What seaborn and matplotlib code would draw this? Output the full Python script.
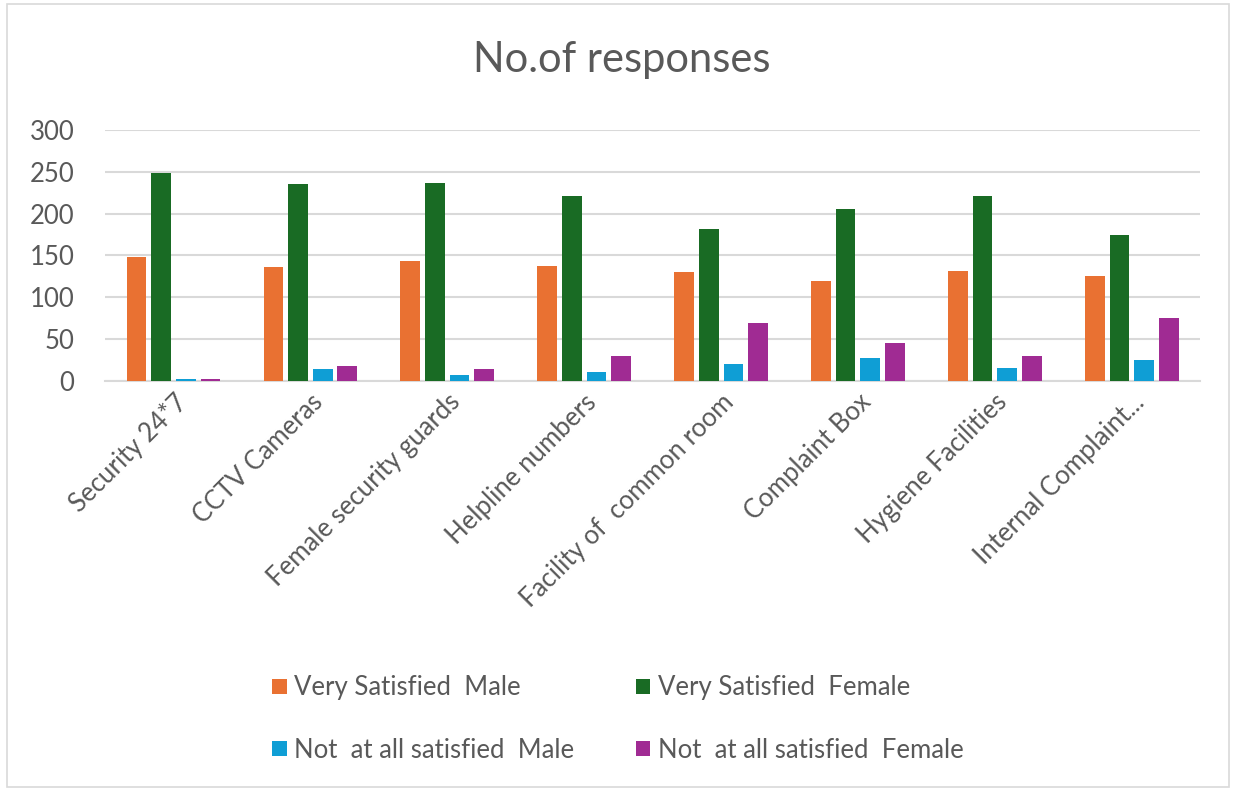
import pandas as pd
import matplotlib.pyplot as plt
import seaborn as sns
from matplotlib.patches import Rectangle

categories = ['Security 24*7', 'CCTV Cameras', 'Female security guards', 'Helpline numbers',
              'Facility of  common room', 'Complaint Box', 'Hygiene Facilities', 'Internal Complaint...']
very_male = [148, 136, 144, 138, 130, 120, 132, 126]
very_female = [248, 235, 236, 221, 182, 206, 221, 175]
notall_male = [3, 15, 7, 11, 20, 28, 16, 25]
notall_female = [3, 18, 15, 30, 69, 46, 30, 76]

series = ['Very Satisfied  Male', 'Very Satisfied  Female',
          'Not  at all satisfied  Male', 'Not  at all satisfied  Female']
colors = ['#E97132', '#196B24', '#0F9ED5', '#A02B93']

# long format for seaborn
rows = []
for name, vals in zip(series, [very_male, very_female, notall_male, notall_female]):
    for cat, v in zip(categories, vals):
        rows.append({'Category': cat, 'Series': name, 'Responses': v})
df = pd.DataFrame(rows)

sns.set_style('white')
plt.rcParams['font.family'] = ['Lato', 'DejaVu Sans']
text_grey = '#595959'

fig = plt.figure(figsize=(12.36, 7.91), dpi=100)
ax = fig.add_axes([0.085, 0.518, 0.886, 0.318])

sns.barplot(data=df, x='Category', y='Responses', hue='Series', palette=colors,
            width=0.72, gap=0.2, saturation=1, linewidth=0, ax=ax, legend=True)
for p in ax.patches:
    p.set_zorder(3)

ax.set_ylim(0, 300)
ax.set_xlim(-0.5, len(categories) - 0.5)
ax.set_yticks(range(0, 301, 50))
ax.yaxis.grid(True, color='#d9d9d9', linewidth=1.5, zorder=0)
ax.set_axisbelow(True)
for side in ['top', 'right', 'left']:
    ax.spines[side].set_visible(False)
ax.spines['bottom'].set_color('#d9d9d9')
ax.spines['bottom'].set_linewidth(1.5)
ax.spines['bottom'].set_zorder(1)
ax.tick_params(axis='both', length=0, colors=text_grey, labelsize=18.5)
ax.tick_params(axis='y', pad=22)
ax.tick_params(axis='x', pad=6)
ax.set_xticks(range(len(categories)))
ax.set_xticklabels(categories, rotation=45, ha='right', rotation_mode='anchor')
ax.set_xlabel('')
ax.set_ylabel('')

handles, labels = ax.get_legend_handles_labels()
ax.get_legend().remove()
order = [0, 2, 1, 3]  # row-wise like the original
fig.legend([handles[i] for i in order], [labels[i] for i in order], ncol=2, loc='center',
           bbox_to_anchor=(0.500, 0.091), frameon=False, fontsize=18.5, labelcolor=text_grey,
           handlelength=0.55, handleheight=0.55, handletextpad=0.3,
           columnspacing=2.4, labelspacing=1.45)

fig.text(0.503, 0.924, 'No.of responses', ha='center', va='center', fontsize=30, color=text_grey)

fig.patches.append(Rectangle((0.006, 0.005), 0.988, 0.99, transform=fig.transFigure,
                             fill=False, edgecolor='#d9d9d9', linewidth=1.2))

fig.savefig('out.png', dpi=100)
